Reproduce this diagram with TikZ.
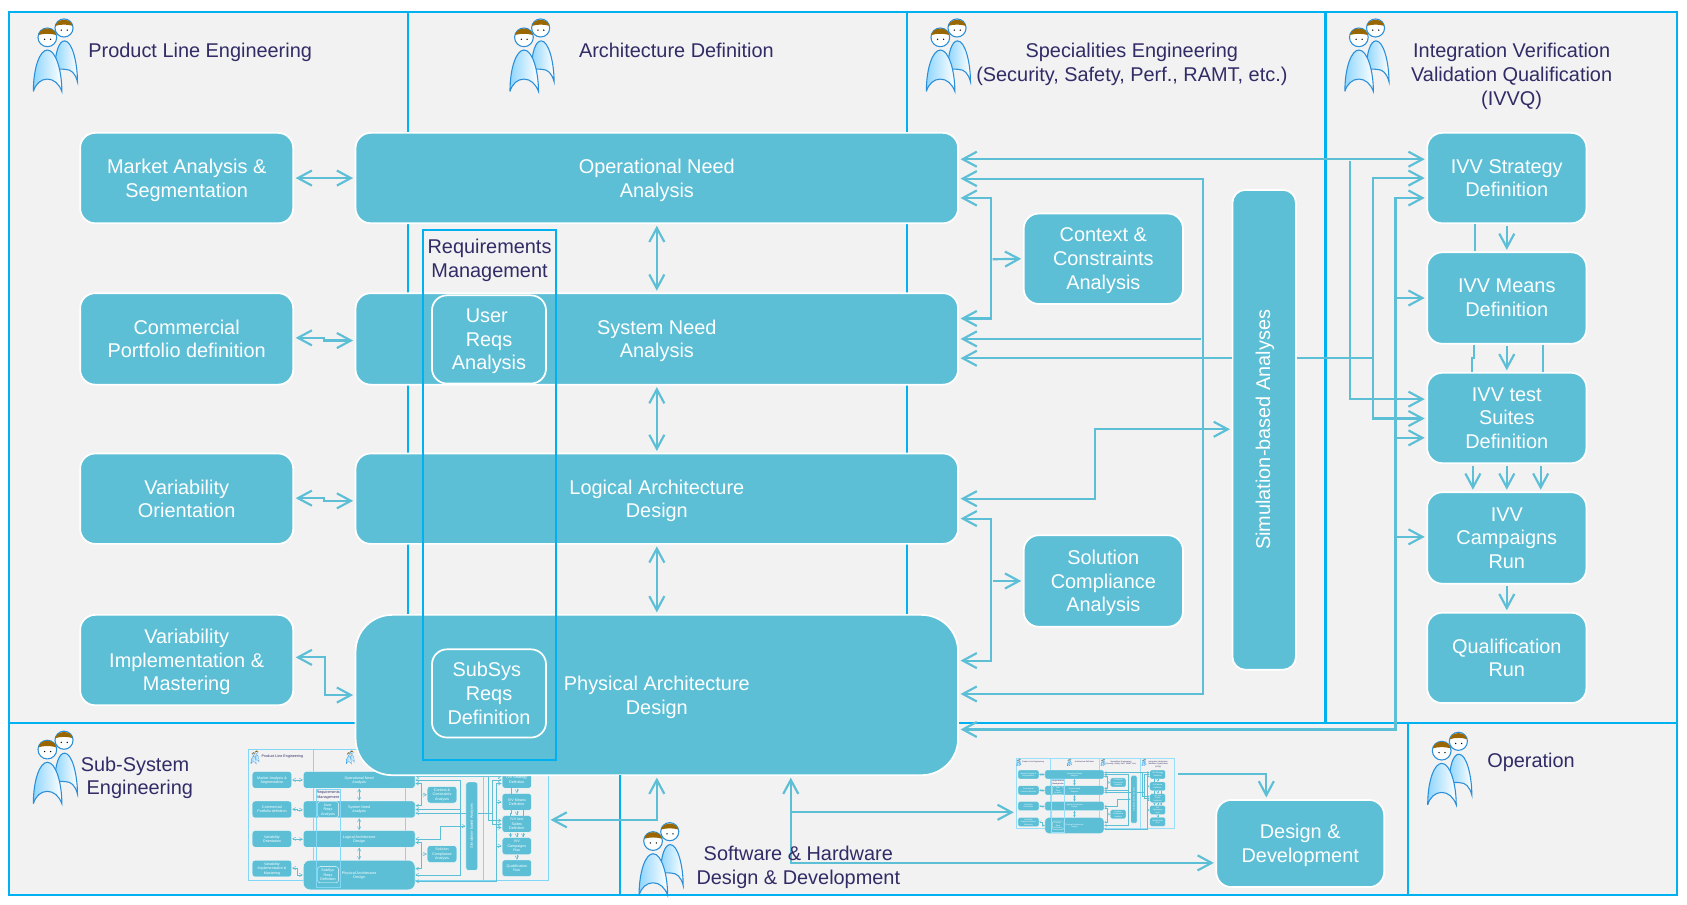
\documentclass[tikz,border=0pt]{standalone}
\usepackage{fontspec}
\setmainfont{Liberation Sans}
\usetikzlibrary{arrows.meta}
\definecolor{boxfill}{HTML}{5CBFD6}
\definecolor{connc}{HTML}{5CBFD6}
\definecolor{linec}{HTML}{00B0F0}
\definecolor{inkc}{HTML}{312B66}
\definecolor{paper}{HTML}{F2F2F2}
\definecolor{hairc}{HTML}{996600}
\definecolor{facec}{HTML}{2A8FD8}
\definecolor{bodyc}{HTML}{8FD6FF}
\colorlet{panelc}{linec}
\newcommand{\lwa}{2pt}
\newcommand{\lwb}{1.6pt}
\newcommand{\gp}{1.5pt}
\newcommand{\rca}{14pt}
\newcommand{\rcb}{34pt}
\newcommand{\rcc}{12pt}
\newcommand{\leftx}{8}
\newcommand{\iconax}{31}
\newcommand{\textax}{82}
\newcommand{\iconbx}{474}
\newcommand{\textbx}{538}
\newcommand{\tstrut}{\rule[-4.5pt]{0pt}{22pt}}
\tikzset{
  bx/.style={draw=white,line width=\lwb,fill=boxfill,rounded corners=\rca,inner sep=0pt,transform shape},
  hd/.style={text=inkc,align=center,inner sep=0pt,transform shape,font=\fontsize{18.5}{22}\selectfont,execute at begin node=\tstrut,execute at end node=\tstrut},
  conn/.style={draw=connc,line width=\lwa,shorten <=\gp,shorten >=\gp},
  panel/.style={draw=panelc,line width=\lwa},
  >={Straight Barb[length=0pt 6.5,width=0pt 7]}
}
\newcommand{\boxnode}[7][]{%
  \node[bx,minimum width={(#4-#2+1)*1pt},minimum height={(#5-#3+1)*1pt},#1] (#6) at ({(#2+#4)/2},{(#3+#5)/2}) {};
  \node[hd,text=white] (#6t) at ({(#2+#4)/2},{(#3+#5)/2+2.2}) {#7}}
\newcommand{\person}[2]{%
  \begin{scope}[shift={(#1,#2)}]
    \draw[draw=facec,line width=\lwa/2,left color=bodyc,right color=white]
      (20,48) .. controls (20,30) and (24,20) .. (29,20) .. controls (36,20) and (41,40) .. (41,58)
      .. controls (39,50) and (35,46.5) .. (30,46.5) .. controls (26,46) and (22,46) .. (20,48);
    \draw[draw=facec,line width=\lwa/2,fill=white] (28.5,8) circle[radius=8.4pt];
    \fill[hairc] (20.5,6) .. controls (22.5,-1.5) and (34.5,-1.5) .. (36.5,6) .. controls (31.5,4.5) and (25.5,4.5) .. cycle;
    \fill[black] (26,10) circle[radius=.7pt] (31.5,10) circle[radius=.7pt];
    \draw[draw=facec,line width=\lwa/2,left color=bodyc,right color=white]
      (0,67) .. controls (0,45) and (6,28.5) .. (13,28.5) .. controls (21,28.5) and (26.5,48) .. (26.5,67)
      .. controls (24,60) and (19,55.5) .. (13,55.5) .. controls (7,55.5) and (2,60) .. (0,67);
    \draw[draw=facec,line width=\lwa/2,fill=white] (13,16.7) circle[radius=8.7pt];
    \fill[hairc] (4.8,14.5) .. controls (6.5,6.5) and (19.5,6.5) .. (21.2,14.5) .. controls (16,13) and (10,13) .. cycle;
    \fill[black] (10.5,18.5) circle[radius=.7pt] (16,18.5) circle[radius=.7pt];
  \end{scope}}
\newcommand{\maindiagram}{%
  \fill[paper] (\leftx,11) rectangle (1559,672);
  \draw[panel] (\leftx,672) -- (\leftx,11) -- (1559,11) -- (1559,672) -- cycle;
  \draw[panel] (379,11) -- (379,672);
  \draw[panel] (843,11) -- (843,672);
  \draw[panel] (1232,11) -- (1232,672);
  \person{\iconax}{18}\person{\iconbx}{18}\person{861}{18}\person{1250}{18}
  \node[hd,anchor=west] (hple) at (\textax,47) {Product Line Engineering};
  \node[hd,anchor=west] (harc) at (\textbx,47) {Architecture Definition};
  \node[hd] (hspe) at (1052,60.2) {Specialities Engineering\\(Security, Safety, Perf., RAMT, etc.)};
  \node[hd] (hivv) at (1405,71.2) {Integration Verification\\Validation Qualification\\(IVVQ)};
  \boxnode{75}{124}{272}{207}{mk} {Market Analysis \&\\Segmentation};
  \boxnode{75}{273}{272}{357}{cm} {Commercial\\Portfolio definition};
  \boxnode{75}{422}{272}{505}{vo} {Variability\\Orientation};
  \boxnode{75}{572}{272}{655}{vi} {Variability\\Implementation \&\\Mastering};
  \boxnode{331}{124}{890}{207}{op} {Operational Need\\Analysis};
  \boxnode{331}{273}{890}{357}{sy} {System Need\\Analysis};
  \boxnode{331}{422}{890}{505}{lo} {Logical Architecture\\Design};
  \boxnode[rounded corners=\rcb]{331}{572}{890}{720}{ph} {Physical Architecture\\Design};
  \boxnode{952}{199}{1099}{282}{ctx} {Context \&\\Constraints\\Analysis};
  \boxnode{952}{498}{1099}{582}{sol} {Solution\\Compliance\\Analysis};
  \node[bx,rounded corners=\rcc,minimum width=59pt,minimum height=446pt] (sim) at (1175,399.5) {};
  \node[hd,text=white,rotate=90] (simt) at (1174,399.5) {Simulation-based Analyses};
  \boxnode{1327}{124}{1474}{207}{ivs} {IVV Strategy\\Definition};
  \boxnode{1327}{235}{1474}{319}{ivm} {IVV Means\\Definition};
  \boxnode{1327}{347}{1474}{430}{ivt} {IVV test\\Suites\\Definition};
  \boxnode{1327}{458}{1474}{542}{ivc} {IVV\\Campaigns\\Run};
  \boxnode{1327}{570}{1474}{653}{ql} {Qualification\\Run};
  % left connectors
  \draw[conn,<->] (mk.east) -- (op.west);
  \draw[conn,<->] (cm.east |- 0,314) -- (301,314) -- (301,316.5) -- (sy.west |- 0,316.5);
  \draw[conn,<->] (vo.east |- 0,463) -- (301,463) -- (301,465.5) -- (lo.west |- 0,465.5);
  \draw[conn,<->] (vi.east |- 0,611) -- (302,611) -- (302,646) -- (ph.west |- 0,646);
  % vertical
  \draw[conn,<->] (op.south) -- (sy.north);
  \draw[conn,<->] (sy.south) -- (lo.north);
  \draw[conn,<->] (lo.south) -- (ph.north);
  % context, solution
  \draw[conn,<->] (op.east |- 0,184) -- (921,184) -- (921,296) -- (sy.east |- 0,296);
  \draw[conn,->] (921,241) -- (ctx.west);
  \draw[conn,<->] (lo.east |- 0,482) -- (921,482) -- (921,614) -- (ph.east |- 0,614);
  \draw[conn,->] (921,540) -- (sol.west);
  % simulation bus
  \draw[conn,<->] (op.east |- 0,166) -- (1118,166) -- (1118,645) -- (ph.east |- 0,645);
  \draw[conn,->] (1118,315) -- (sy.east |- 0,315);
  \draw[conn,<->] (lo.east |- 0,463.5) -- (1018,463.5) -- (1018,399) -- (sim.west |- 0,399);
  % strategy
  \draw[conn,<->] (op.east |- 0,148) -- (ivs.west |- 0,148);
  \draw[conn,->] (1255,148) -- (1255,371) -- (ivt.west |- 0,371);
  \draw[conn,<-,shorten >=0pt] (sy.east |- 0,333) -- (sim.west |- 0,333);
  \draw[draw=connc,line width=\lwa] (sim.east |- 0,333) -- (1276,333);
  \draw[conn,<->] (ivs.west |- 0,165.5) -- (1276,165.5) -- (1276,389) -- (ivt.west |- 0,389);
  \draw[conn,<->] (ph.east |- 0,678) -- (1297,678) -- (1297,184) -- (ivs.west |- 0,184);
  \draw[conn,->] (1297,277) -- (ivm.west |- 0,277);
  \draw[conn,->] (1297,407) -- (ivt.west |- 0,407);
  \draw[conn,->] (1297,499) -- (ivc.west |- 0,499);
  % IVV chain
  \draw[draw=connc,line width=\lwa] (ivs.south -| 1371,0) -- (ivm.north -| 1371,0);
  \draw[conn,->] (ivs.south) -- (ivm.north);
  \draw[draw=connc,line width=\lwa] (ivm.south -| 1370,0) -- (1370,333) -- (1368.5,333) -- (ivt.north -| 1368.5,0);
  \draw[conn,->] (ivm.south) -- (ivt.north);
  \draw[draw=connc,line width=\lwa] (ivm.south -| 1434,0) -- (ivt.north -| 1434,0);
  \draw[conn,->] (ivt.south -| 1369,0) -- (ivc.north -| 1369,0);
  \draw[conn,->] (ivt.south) -- (ivc.north);
  \draw[conn,->] (ivt.south -| 1432,0) -- (ivc.north -| 1432,0);
  \draw[conn,->] (ivc.south) -- (ql.north);
  % requirements
  \boxnode[fill=none]{402}{275}{507}{356}{urq} {User\hspace*{4pt}\\Reqs\hspace*{4pt}\\Analysis};
  \boxnode[fill=none]{402}{604}{507}{685}{ssr} {SubSys\hspace*{4pt}\\Reqs\hspace*{4pt}\\Definition};
  \node[hd] (rqt) at (455,242.2) {Requirements\\Management};
  \draw[panel] (393,214) rectangle (517,706);
}
\begin{document}
\begin{tikzpicture}[x=1pt,y=-1pt]
\useasboundingbox (0,0) rectangle (1568,841);
\fill[paper] (8,672) rectangle (1559,832);
\begin{scope}[shift={(220.6,694.4)},xscale=.1855,yscale=.184,name prefix=ta-]
  \colorlet{panelc}{linec!50!white}
  \renewcommand{\lwa}{.45pt}\renewcommand{\lwb}{.3pt}\renewcommand{\gp}{.3pt}
  \renewcommand{\rca}{2.6pt}\renewcommand{\rcb}{6.2pt}\renewcommand{\rcc}{2.2pt}
  \renewcommand{\leftx}{56}\renewcommand{\iconax}{68}\renewcommand{\textax}{122}
  \renewcommand{\iconbx}{545}\renewcommand{\textbx}{612}
  \maindiagram
\end{scope}
\begin{scope}[shift={(938.9,703.5)},xscale=.0979,yscale=.0987,name prefix=tb-]
  \colorlet{panelc}{linec!40!white}
  \renewcommand{\lwa}{.3pt}\renewcommand{\lwb}{.15pt}\renewcommand{\gp}{.15pt}
  \renewcommand{\rca}{1.4pt}\renewcommand{\rcb}{3.3pt}\renewcommand{\rcc}{1.2pt}
  \renewcommand{\leftx}{56}\renewcommand{\iconax}{62}\renewcommand{\textax}{113}
  \renewcommand{\iconbx}{542}\renewcommand{\textbx}{614}
  \maindiagram
\end{scope}
\maindiagram
\draw[panel] (8,672) -- (8,832) -- (1559,832) -- (1559,672);
\draw[panel] (576,720) -- (576,832);
\draw[panel] (1309,672) -- (1309,832);
\node[inner sep=0pt,minimum width=279pt,minimum height=124pt] (tha) at (370.5,758) {};
\node[inner sep=0pt,minimum width=149pt,minimum height=65pt] (thb) at (1018.5,737.5) {};
\boxnode{1131}{744}{1286}{824}{dd} {Design \&\\Development};
\draw[conn,<->] (tha.east |- 0,762) -- (ph.south |- 0,762) -- (ph.south);
\coordinate (br) at (735,755);
\draw[conn,<->] (ph.south -| 735,0) -- (735,802) -- (dd.west |- 0,802);
\draw[conn,->] (br) -- (thb.west |- br);
\draw[conn,->] (thb.east |- 0,719) -- (1177,719) -- (dd.north -| 1177,0);
\person{31}{680}\person{594}{765}\person{1327}{681}
\node[hd] (hsub) at (127.7,723.2) {Sub-System\hspace*{4.5pt}\\\hspace*{4.5pt}Engineering};
\node[hd] (hsw) at (742,806.2) {Software \& Hardware\\Design \& Development};
\node[hd] (hopr) at (1423,707) {Operation};
\end{tikzpicture}
\end{document}
